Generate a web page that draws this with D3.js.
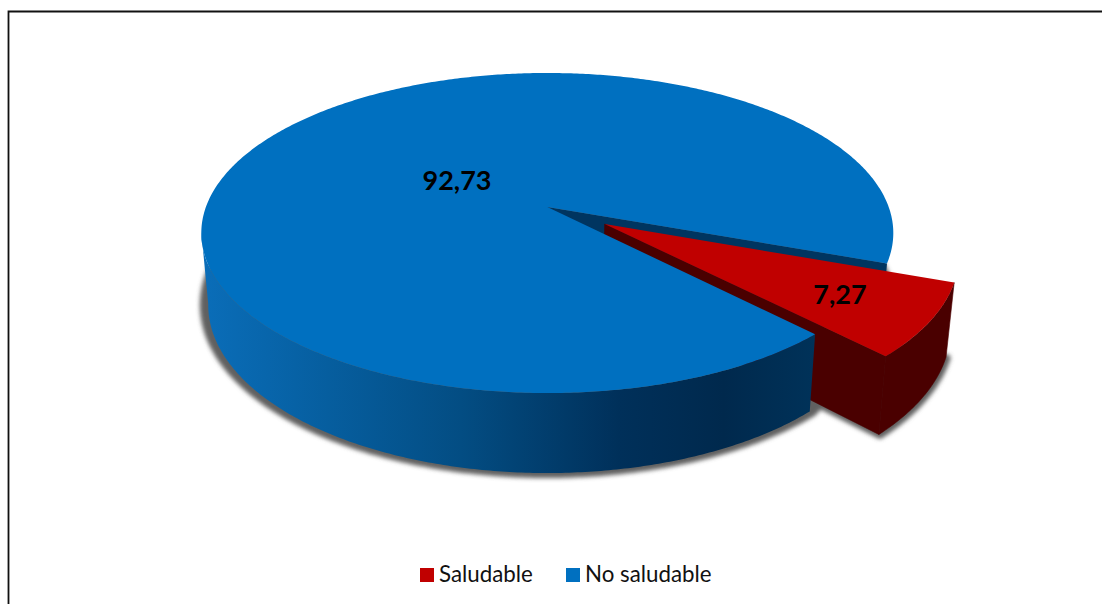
<!DOCTYPE html>
<html>
<head>
<meta charset="utf-8">
<script src="https://cdn.jsdelivr.net/npm/d3@7"></script>
<style>
html, body { margin: 0; padding: 0; background: #fff; overflow: hidden; }
svg { display: block; }
text { font-family: Lato, "Liberation Sans", sans-serif; }
</style>
</head>
<body>
<svg id="chart" width="1102" height="604"></svg>
<script>
// Composition of the sample, in percent
const categories = ["Saludable", "No saludable"];
const percentages = [7.27, 92.73];
const valueLabels = ["7,27", "92,73"];
const topColors = ["#c00000", "#0070c0"];

const svg = d3.select("#chart");
const width = 1102, height = 604;

// Perspective projection of the unit disc onto the screen
const pieCx = 547.3, pieCy = 207;
const scaleX = 341.4, scaleY = 155.8, tilt = 0.1625;
const explode = 0.197;

function project(wx, wy) {
  const d = 1 - tilt * wy;
  return [pieCx + scaleX * wx / d, pieCy + scaleY * wy / d];
}
// The underside is drawn a little narrower, and deeper toward the viewer
function lower(p) {
  return [pieCx + 0.98 * (p[0] - pieCx), 1.05 * p[1] + 60.35];
}

// d3.pie angles run clockwise from north, which is also how the screen reads
const pie = d3.pie().sort(null).value(d => d)
  .startAngle(110 * Math.PI / 180)
  .endAngle((110 + 360) * Math.PI / 180);
const [redArc, blueArc] = pie(percentages);

function rimPoint(angle, offset) {
  return project(Math.sin(angle) + offset[0], -Math.cos(angle) + offset[1]);
}
function rim(a0, a1, offset) {
  const n = Math.max(2, Math.ceil(Math.abs(a1 - a0) / 0.01));
  return d3.range(n + 1).map(i => rimPoint(a0 + (a1 - a0) * i / n, offset));
}
const line = d3.line();
const closed = pts => line(pts) + "Z";

const redMid = (redArc.startAngle + redArc.endAngle) / 2;
const redOffset = [explode * Math.sin(redMid), -explode * Math.cos(redMid)];
const noOffset = [0, 0];

const defs = svg.append("defs");
const blur = defs.append("filter").attr("id", "soft")
  .attr("x", "-10%").attr("y", "-10%").attr("width", "120%").attr("height", "120%");
blur.append("feGaussianBlur").attr("stdDeviation", 2.2);

const wallGrad = defs.append("linearGradient").attr("id", "wallBlue")
  .attr("gradientUnits", "userSpaceOnUse")
  .attr("x1", 205).attr("x2", 815).attr("y1", 0).attr("y2", 0);
[[0, "#0a6db8"], [0.2, "#065e9f"], [0.42, "#034d83"], [0.68, "#00305a"], [0.85, "#00294d"], [1, "#003259"]]
  .forEach(([o, c]) => wallGrad.append("stop").attr("offset", o).attr("stop-color", c));

// Blue wall runs round the front of the disc to its leftmost silhouette point
const leftmostAngle = 261 * Math.PI / 180;
const blueFront = rim(blueArc.startAngle, leftmostAngle, noOffset);
const blueWall = blueFront.concat(blueFront.map(lower).reverse());
const blueBottom = rim(blueArc.startAngle, blueArc.endAngle, noOffset).map(lower);

// Red outer wall and its visible cut face
const redRim = rim(redArc.startAngle, redArc.endAngle, redOffset);
const redApex = project(redOffset[0], redOffset[1]);
const redEdge = rimPoint(redArc.endAngle, redOffset);
const redWall = redRim.concat(redRim.map(lower).reverse());
const redCut = [redApex, redEdge, lower(redEdge), lower(redApex)];
const redBottom = [lower(redApex)].concat(redRim.map(lower));

// Cut face left in the blue disc at the top of the wedge
const apex = project(0, 0);
const notchEdge = rimPoint(blueArc.endAngle, noOffset);
const notch = [apex, notchEdge, lower(notchEdge), lower(apex)];

// Drop shadows under the solid
const shadow = svg.append("g").attr("filter", "url(#soft)")
  .attr("fill", "#606060").attr("stroke", "#606060").attr("stroke-linejoin", "round");
shadow.append("path")
  .attr("d", closed(blueBottom.map(p => [pieCx + 1.01 * (p[0] - pieCx), p[1]])))
  .attr("stroke-width", 10);
shadow.append("path").attr("d", closed(redBottom))
  .attr("stroke-width", 7).attr("transform", "translate(1,1)");

// Solid faces, back to front
const wallRed = "#4a0000";
svg.append("path").attr("d", closed(notch)).attr("fill", "#003560");
[redCut, redWall].forEach(face => {
  svg.append("path").attr("d", closed(face)).attr("fill", wallRed)
    .attr("stroke", wallRed).attr("stroke-width", 0.6);
});
svg.append("path").attr("d", closed([redApex].concat(redRim))).attr("fill", topColors[0]);
svg.append("path").attr("d", closed(blueWall)).attr("fill", "url(#wallBlue)");
svg.append("path").attr("d", closed([apex].concat(rim(blueArc.startAngle, blueArc.endAngle, noOffset))))
  .attr("fill", topColors[1]);

// Value labels
const labelAt = [[840, 304], [457, 190]];
valueLabels.forEach((t, i) => {
  svg.append("text").attr("x", labelAt[i][0]).attr("y", labelAt[i][1])
    .attr("text-anchor", "middle").attr("font-size", 27).attr("font-weight", 700)
    .attr("fill", "#000").text(t);
});

// Legend
const legendX = d3.scaleOrdinal().domain(categories).range([420, 566]);
const legend = svg.append("g").selectAll("g").data(categories).join("g")
  .attr("transform", d => `translate(${legendX(d)},568)`);
legend.append("rect").attr("width", 14).attr("height", 14)
  .attr("fill", (d, i) => topColors[i]);
legend.append("text").attr("x", 19).attr("y", 14)
  .attr("font-size", 22.3).attr("fill", "#111").text(d => d);

// Outer frame, cut by the page edge
svg.append("path").attr("d", `M8.5,${height}V11.5H${width}`)
  .attr("fill", "none").attr("stroke", "#111").attr("stroke-width", 1.8);
</script>
</body>
</html>
